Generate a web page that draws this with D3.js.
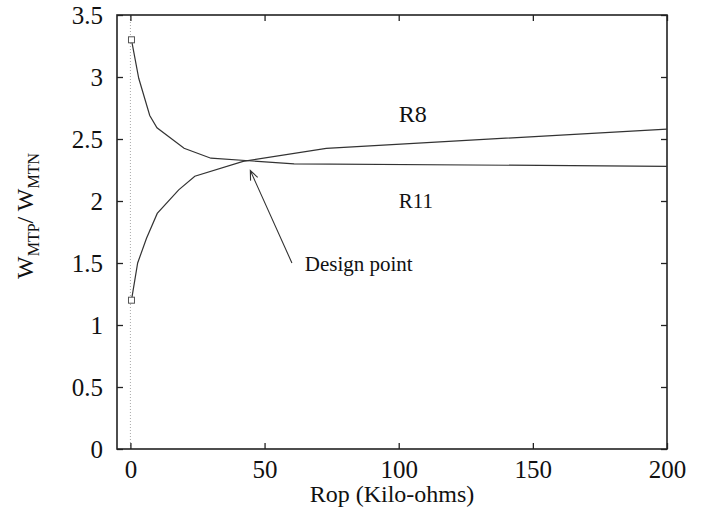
<!DOCTYPE html>
<html>
<head>
<meta charset="utf-8">
<script src="https://cdn.jsdelivr.net/npm/d3@7"></script>
<style>
  body { margin: 0; background: #fff; }
  svg text { font-family: "Liberation Serif", Tinos, "Nimbus Roman", "Times New Roman", Times, "DejaVu Serif", serif; fill: #111; }
</style>
</head>
<body>
<div id="chart"></div>
<script>
// W_MTP / W_MTN versus Rop

const width = 703,
    height = 507,
    margin = ({ top: 15, right: 36, bottom: 58, left: 117 }),
    serif = '"Liberation Serif", Tinos, "Nimbus Roman", "Times New Roman", Times, "DejaVu Serif", serif';

// R8 curve (rising)
const r8X = [0.4, 2.7, 6, 10, 18, 24, 42, 73, 200];
const r8Y = [1.2, 1.5, 1.7, 1.9, 2.09, 2.2, 2.32, 2.425, 2.58];

// R11 curve (falling)
const r11X = [0.4, 3.1, 7.2, 9.9, 20, 30, 61, 200];
const r11Y = [3.3, 2.99, 2.69, 2.59, 2.425, 2.345, 2.3, 2.28];

// square markers at the start points
const markX = [0.4, 0.4];
const markY = [3.3, 1.2];

const xTicks = [0, 50, 100, 150, 200];
const yTicks = [0, 0.5, 1, 1.5, 2, 2.5, 3, 3.5];

// annotation arrow (data coords)
const arrowFrom = [60.2, 1.5];
const arrowTo = [44.7, 2.245];

const svg = d3.select("#chart")
  .append("svg")
  .attr("width", width)
  .attr("height", height);

const x = d3.scaleLinear()
  .domain([-5, 200])
  .range([margin.left, width - margin.right]);

const y = d3.scaleLinear()
  .domain([0, 3.5])
  .range([height - margin.bottom, margin.top]);

// zero axis (dotted)
svg.append("line")
  .attr("x1", x(0)).attr("x2", x(0))
  .attr("y1", y(0)).attr("y2", y(3.5))
  .attr("stroke", "#aaa")
  .attr("stroke-dasharray", "1,2");

// axes with inward ticks, mirrored on top/right
const axFont = g => g
  .attr("font-family", serif)
  .attr("font-size", 25)
  .selectAll("text")
  .style("font-family", serif)
  .style("font-size", "25px")
  .attr("fill", "#111");

svg.append("g")
  .attr("transform", `translate(0,${y(0)})`)
  .call(d3.axisBottom(x).tickValues(xTicks).tickSizeInner(-6).tickSizeOuter(0).tickPadding(11))
  .call(g => g.select(".domain").remove())
  .call(axFont);

svg.append("g")
  .attr("transform", `translate(0,${y(3.5)})`)
  .call(d3.axisTop(x).tickValues(xTicks).tickSizeInner(-6).tickSizeOuter(0).tickFormat(""))
  .call(g => g.select(".domain").remove());

svg.append("g")
  .attr("transform", `translate(${x(-5)},0)`)
  .call(d3.axisLeft(y).tickValues(yTicks).tickSizeInner(-6).tickSizeOuter(0).tickPadding(14).tickFormat(d3.format("")))
  .call(g => g.select(".domain").remove())
  .call(axFont);

svg.append("g")
  .attr("transform", `translate(${x(200)},0)`)
  .call(d3.axisRight(y).tickValues(yTicks).tickSizeInner(-6).tickSizeOuter(0).tickFormat(""))
  .call(g => g.select(".domain").remove());

svg.selectAll(".tick line").attr("stroke", "#222").attr("stroke-width", 1.3);

// frame
svg.append("rect")
  .attr("x", x(-5)).attr("y", y(3.5))
  .attr("width", x(200) - x(-5))
  .attr("height", y(0) - y(3.5))
  .attr("fill", "none")
  .attr("stroke", "#222")
  .attr("stroke-width", 1.6);

// curves
const line = d3.line().x(d => x(d[0])).y(d => y(d[1]));

svg.append("path")
  .datum(d3.zip(r8X, r8Y))
  .attr("d", line)
  .attr("fill", "none")
  .attr("stroke", "#333")
  .attr("stroke-width", 1.2);

svg.append("path")
  .datum(d3.zip(r11X, r11Y))
  .attr("d", line)
  .attr("fill", "none")
  .attr("stroke", "#333")
  .attr("stroke-width", 1.2);

svg.selectAll(".mark")
  .data(d3.zip(markX, markY))
  .join("rect")
  .attr("class", "mark")
  .attr("x", d => x(d[0]) - 3)
  .attr("y", d => y(d[1]) - 3)
  .attr("width", 6)
  .attr("height", 6)
  .attr("fill", "#fff")
  .attr("stroke", "#555")
  .attr("stroke-width", 1);

// arrow
const ax1 = x(arrowFrom[0]), ay1 = y(arrowFrom[1]),
    ax2 = x(arrowTo[0]), ay2 = y(arrowTo[1]);
const ang = Math.atan2(ay1 - ay2, ax1 - ax2);
const headLen = 10, headAng = 0.4;

svg.append("path")
  .attr("d", `M${ax1},${ay1}L${ax2},${ay2}` +
    `M${ax2 + headLen * Math.cos(ang - headAng)},${ay2 + headLen * Math.sin(ang - headAng)}` +
    `L${ax2},${ay2}` +
    `L${ax2 + headLen * Math.cos(ang + headAng)},${ay2 + headLen * Math.sin(ang + headAng)}`)
  .attr("fill", "none")
  .attr("stroke", "#333")
  .attr("stroke-width", 1.1);

// labels
const label = (tx, ty, size, str) => svg.append("text")
  .attr("x", x(tx)).attr("y", y(ty))
  .attr("font-family", serif)
  .style("font-size", size + "px")
  .text(str);

label(100, 2.64, 24, "R8");
label(100, 1.94, 21, "R11");
label(65, 1.438, 21, "Design point");

// axis titles
svg.append("text")
  .attr("x", (x(-5) + x(200)) / 2)
  .attr("y", 502)
  .attr("text-anchor", "middle")
  .attr("font-family", serif)
  .style("font-size", "24px")
  .text("Rop (Kilo-ohms)");

const yl = svg.append("text")
  .attr("transform", `translate(33,216) rotate(-90)`)
  .attr("text-anchor", "middle")
  .attr("font-family", serif)
  .style("font-size", "24px");
yl.append("tspan").text("W");
yl.append("tspan").attr("dy", 6).style("font-size", "16px").text("MTP");
yl.append("tspan").attr("dy", -6).text("/ W");
yl.append("tspan").attr("dy", 6).style("font-size", "16px").text("MTN");
</script>
</body>
</html>
